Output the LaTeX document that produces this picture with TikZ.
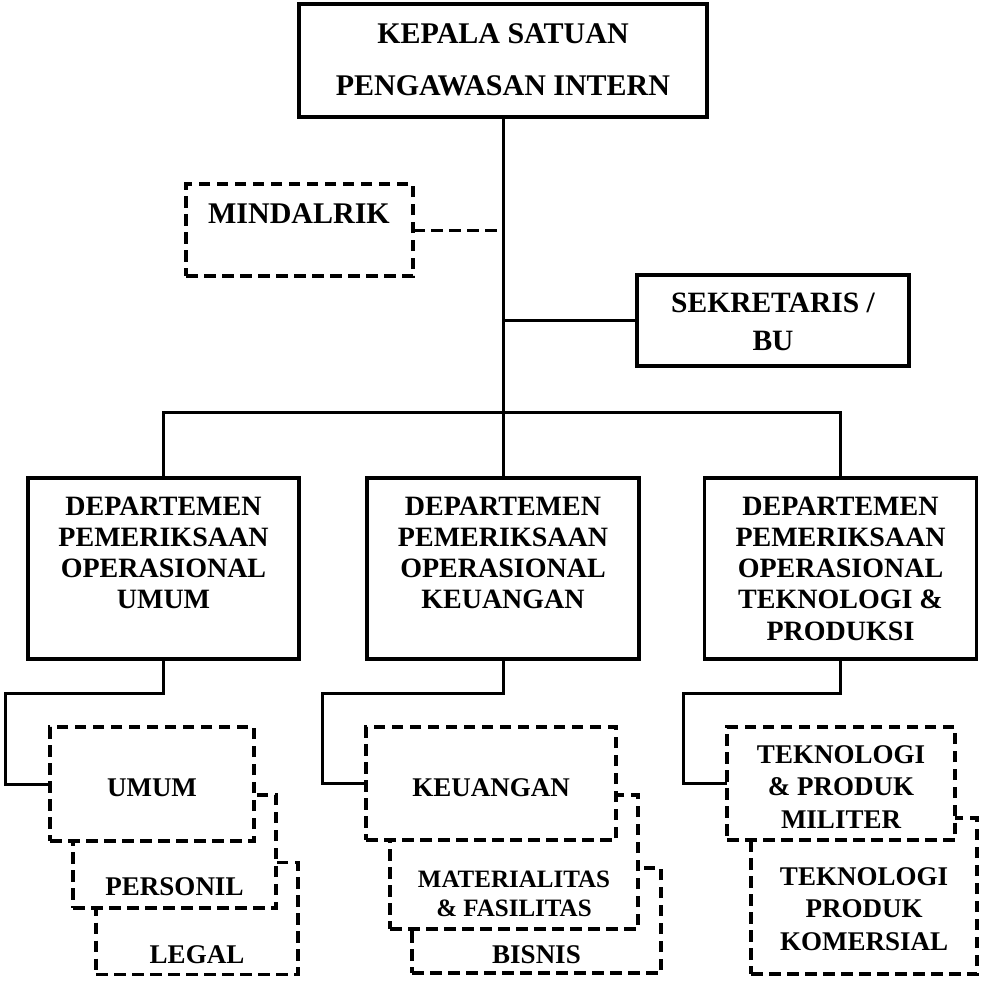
\documentclass[tikz,border=0pt]{standalone}
\usepackage{fontspec}
\setmainfont{Liberation Serif}
\newcommand{\mylines}[1]{\begin{tabular}[t]{@{}c@{}}#1\end{tabular}}
\begin{document}
\begin{tikzpicture}[x=1pt,y=-1pt,
  solidbox/.style={draw, line width=3.3pt, fill=white, inner sep=0pt, outer sep=0pt},
  dbox/.style={draw, line width=3.3pt, dash pattern=on 11.5pt off 6.5pt, fill=white, inner sep=0pt, outer sep=0pt},
  link/.style={line width=3pt},
  dlink/.style={line width=3pt, dash pattern=on 11.5pt off 6.5pt},
  txtbig/.style={inner sep=0pt, anchor=base, font=\fontsize{30}{52}\selectfont\bfseries},
  txtsek/.style={inner sep=0pt, anchor=base, font=\fontsize{29.5}{38}\selectfont\bfseries},
  txtdep/.style={inner sep=0pt, anchor=base, font=\fontsize{28}{31.3}\selectfont\bfseries},
  txtsub/.style={inner sep=0pt, anchor=base, font=\fontsize{27}{32.5}\selectfont\bfseries},
  txtmat/.style={inner sep=0pt, anchor=base, font=\fontsize{25}{29}\selectfont\bfseries}
]
\useasboundingbox[fill=white] (0,0) rectangle (981,980);

% top level
\node[solidbox, minimum width=408pt, minimum height=113pt] (T) at (503,60.5) {};
\node[txtbig] (Tt) at (503,43) {\mylines{KEPALA SATUAN\\PENGAWASAN INTERN}};

\node[dbox, minimum width=227pt, minimum height=92pt] (M) at (299.5,230) {};
\node[txtbig] (Mt) at (299,223) {MINDALRIK};

\node[solidbox, minimum width=272pt, minimum height=91pt] (S) at (773,320.5) {};
\node[txtsek] (St) at (773,312) {\mylines{SEKRETARIS /\\BU}};

% departments
\node[solidbox, minimum width=271pt, minimum height=181pt] (D1) at (163.5,568.5) {};
\node[solidbox, minimum width=272pt, minimum height=181pt] (D2) at (503,568.5) {};
\node[solidbox, minimum width=272pt, minimum height=181pt] (D3) at (840.5,568.5) {};
\node[txtdep] (D1t) at (163.5,515) {\mylines{DEPARTEMEN\\PEMERIKSAAN\\OPERASIONAL\\UMUM}};
\node[txtdep] (D2t) at (503,515) {\mylines{DEPARTEMEN\\PEMERIKSAAN\\OPERASIONAL\\KEUANGAN}};
\node[txtdep] (D3t) at (840.5,515) {\mylines{DEPARTEMEN\\PEMERIKSAAN\\OPERASIONAL\\TEKNOLOGI \&\\PRODUKSI}};

% connectors top
\coordinate (bus) at (503,412);
\draw[link] (T.south) -- (D2.north);
\draw[link] (D1.north) |- (bus) -| (D3.north);
\draw[link] (S.west) -- (S.west -| T.south);
\draw[dlink] (M.east) -- (M.east -| T.south);

% group 1 (back to front)
\node[dbox, minimum width=202pt, minimum height=112pt] (U3) at (197,918.5) {};
\node[txtsub] (U3t) at (197,963) {LEGAL};
\node[dbox, minimum width=203pt, minimum height=113pt] (U2) at (174.5,851.5) {};
\node[txtsub] (U2t) at (174.5,895) {PERSONIL};
\node[dbox, minimum width=204pt, minimum height=114pt] (U1) at (152,784) {};
\node[txtsub] (U1t) at (152,796) {UMUM};

% group 2
\node[dbox, minimum width=249pt, minimum height=105pt] (K3) at (536.5,920.5) {};
\node[txtsub] (K3t) at (536.5,963) {BISNIS};
\node[dbox, minimum width=248pt, minimum height=134pt] (K2) at (514,862) {};
\node[txtmat] (K2t) at (514,887) {\mylines{MATERIALITAS\\\& FASILITAS}};
\node[dbox, minimum width=250pt, minimum height=113pt] (K1) at (491,783.5) {};
\node[txtsub] (K1t) at (491,796) {KEUANGAN};

% group 3
\node[dbox, minimum width=226pt, minimum height=156pt] (P2) at (864,896) {};
\node[txtsub] (P2t) at (864,885) {\mylines{TEKNOLOGI\\PRODUK\\KOMERSIAL}};
\node[dbox, minimum width=228pt, minimum height=113pt] (P1) at (841,783.5) {};
\node[txtsub] (P1t) at (841,763) {\mylines{TEKNOLOGI\\\& PRODUK\\MILITER}};

% connectors bottom
\coordinate (c1) at (5,693);
\coordinate (c2) at (322,693);
\coordinate (c3) at (683,693);
\draw[link] (D1.south) |- (c1) |- (U1.west);
\draw[link] (D2.south) |- (c2) |- (K1.west);
\draw[link] (D3.south) |- (c3) |- (P1.west);
\end{tikzpicture}
\end{document}
